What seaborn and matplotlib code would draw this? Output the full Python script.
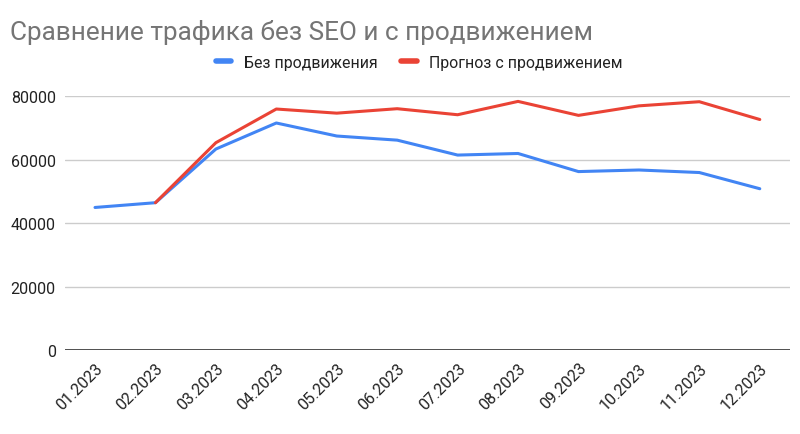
import pandas as pd
import numpy as np
import seaborn as sns
import matplotlib.pyplot as plt
from matplotlib.lines import Line2D

months = ["01.2023", "02.2023", "03.2023", "04.2023", "05.2023", "06.2023",
          "07.2023", "08.2023", "09.2023", "10.2023", "11.2023", "12.2023"]
bez_seo = [44900, 46400, 63300, 71500, 67400, 66100,
           61400, 61900, 56200, 56700, 55900, 50800]
s_seo = [np.nan, 46400, 65300, 75900, 74600, 76000,
         74100, 78300, 73900, 76900, 78200, 72600]

df = pd.DataFrame({"Месяц": months,
                   "Без продвижения": bez_seo,
                   "Прогноз с продвижением": s_seo})
long_df = df.melt(id_vars="Месяц", var_name="Серия", value_name="Трафик")

sns.set_style("white")
plt.rcParams['font.family'] = ['Roboto', 'DejaVu Sans']

blue = "#4285f4"
red = "#ea4335"

fig = plt.figure(figsize=(8, 4.35), dpi=100)
ax = fig.add_axes([0.081, 0.193, 0.9065, 0.584])

sns.lineplot(data=long_df, x="Месяц", y="Трафик", hue="Серия",
             palette=[blue, red], linewidth=2.2, ax=ax, legend=False, sort=False)

ax.set_xlim(-0.5, len(months) - 0.5)
ax.set_ylim(0, 80000)
ax.set_yticks([0, 20000, 40000, 60000, 80000])
ax.yaxis.grid(True, color="#cccccc", linewidth=1)
ax.set_axisbelow(True)
ax.axhline(0, color="#333333", linewidth=1.2)
for s in ax.spines.values():
    s.set_visible(False)
ax.set_xlabel("")
ax.set_ylabel("")
ax.tick_params(axis="both", length=0, labelsize=11.5, colors="#222222")
ax.tick_params(axis="y", pad=6.5)
ax.tick_params(axis="x", pad=7)
plt.setp(ax.get_xticklabels(), rotation=45, ha="right", rotation_mode="anchor")

fig.text(0.0125, 0.907, "Сравнение трафика без SEO и с продвижением",
         fontsize=18.8, color="#757575", va="baseline")

handles = [Line2D([0], [0], color=blue, linewidth=4),
           Line2D([0], [0], color=red, linewidth=4)]
fig.legend(handles, ["Без продвижения", "Прогноз с продвижением"],
           loc="center", bbox_to_anchor=(0.524, 0.855), ncol=2, frameon=False,
           fontsize=11.4, handlelength=1.0, handletextpad=0.8,
           columnspacing=1.45, labelcolor="#222222")

fig.savefig("out.png", dpi=100)
